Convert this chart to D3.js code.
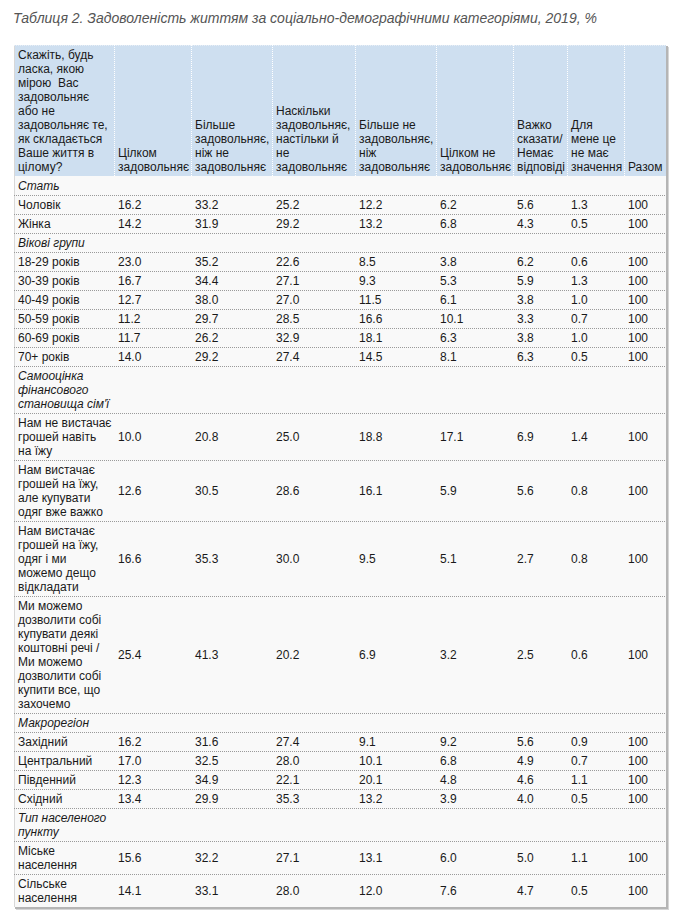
<!DOCTYPE html>
<html>
<head>
<meta charset="utf-8">
<script src="https://cdn.jsdelivr.net/npm/d3@7"></script>
<style>
  html, body { margin: 0; padding: 0; background: #fff; }
  svg { display: block; }
  text { font-family: "Liberation Sans", Arial, sans-serif; }
</style>
</head>
<body>
<svg id="chart" width="680" height="915"></svg>
<script>
// ---------- DATA ----------
const title = "Таблиця 2. Задоволеність життям за соціально-демографічними категоріями, 2019, %";

const columnHeaders = [
  "Скажіть, будь\nласка, якою\nмірою\u00a0 Вас\nзадовольняє\nабо не\nзадовольняє те,\nяк складається\nВаше життя в\nцілому?",
  "Цілком\nзадовольняє",
  "Більше\nзадовольняє,\nніж не\nзадовольняє",
  "Наскільки\nзадовольняє,\nнастільки й\nне\nзадовольняє",
  "Більше не\nзадовольняє,\nніж\nзадовольняє",
  "Цілком не\nзадовольняє",
  "Важко\nсказати/\nНемає\nвідповіді",
  "Для\nмене це\nне має\nзначення",
  "Разом"
];

const groups = [
  "Стать",
  "Вікові групи",
  "Самооцінка\nфінансового\nстановища сім'ї",
  "Макрорегіон",
  "Тип населеного\nпункту"
];

// index of the group each category belongs to
const categoryGroup = [0,0, 1,1,1,1,1,1, 2,2,2,2, 3,3,3,3, 4,4];

const categories = [
  "Чоловік",
  "Жінка",
  "18-29 років",
  "30-39 років",
  "40-49 років",
  "50-59 років",
  "60-69 років",
  "70+ років",
  "Нам не вистачає\nгрошей навіть\nна їжу",
  "Нам вистачає\nгрошей на їжу,\nале купувати\nодяг вже важко",
  "Нам вистачає\nгрошей на їжу,\nодяг і ми\nможемо дещо\nвідкладати",
  "Ми можемо\nдозволити собі\nкупувати деякі\nкоштовні речі /\nМи можемо\nдозволити собі\nкупити все, що\nзахочемо",
  "Західний",
  "Центральний",
  "Південний",
  "Східний",
  "Міське\nнаселення",
  "Сільське\nнаселення"
];

const fullySatisfied      = [16.2,14.2,23.0,16.7,12.7,11.2,11.7,14.0,10.0,12.6,16.6,25.4,16.2,17.0,12.3,13.4,15.6,14.1];
const moreSatisfied       = [33.2,31.9,35.2,34.4,38.0,29.7,26.2,29.2,20.8,30.5,35.3,41.3,31.6,32.5,34.9,29.9,32.2,33.1];
const equallySatisfied    = [25.2,29.2,22.6,27.1,27.0,28.5,32.9,27.4,25.0,28.6,30.0,20.2,27.4,28.0,22.1,35.3,27.1,28.0];
const moreDissatisfied    = [12.2,13.2,8.5,9.3,11.5,16.6,18.1,14.5,18.8,16.1,9.5,6.9,9.1,10.1,20.1,13.2,13.1,12.0];
const fullyDissatisfied   = [6.2,6.8,3.8,5.3,6.1,10.1,6.3,8.1,17.1,5.9,5.1,3.2,9.2,6.8,4.8,3.9,6.0,7.6];
const hardToSay           = [5.6,4.3,6.2,5.9,3.8,3.3,3.8,6.3,6.9,5.6,2.7,2.5,5.6,4.9,4.6,4.0,5.0,4.7];
const notImportant        = [1.3,0.5,0.6,1.3,1.0,0.7,1.0,0.5,1.4,0.8,0.8,0.6,0.9,0.7,1.1,0.5,1.1,0.5];
const total               = [100,100,100,100,100,100,100,100,100,100,100,100,100,100,100,100,100,100];

const series = [fullySatisfied, moreSatisfied, equallySatisfied, moreDissatisfied,
                fullyDissatisfied, hardToSay, notImportant, total];

// ---------- LAYOUT ----------
const svg = d3.select("#chart");
const tableLeft = 14, tableTop = 45;
const colWidths = [100, 77, 81, 83, 81, 77, 54, 57, 42];
const lineH = 14, padV = 2.5, padL = 4, fontSize = 12;
const headerBg = "#cedff0", bodyBg = "#f9f9f9", textColor = "#1a1a1a";

const colEdges = [tableLeft];
colWidths.forEach(w => colEdges.push(colEdges[colEdges.length - 1] + w));
const tableRight = colEdges[colEdges.length - 1];
const xCol = d3.scaleOrdinal().domain(d3.range(colWidths.length)).range(colEdges.slice(0, -1));

const fmt1 = d3.format(".1f"), fmt0 = d3.format("d");

// Build row model
const rows = [];
let lastGroup = -1;
categories.forEach((c, i) => {
  const g = categoryGroup[i];
  if (g !== lastGroup) {
    rows.push({ type: "group", label: groups[g] });
    lastGroup = g;
  }
  rows.push({
    type: "data", label: c,
    values: series.map((s, j) => j === series.length - 1 ? fmt0(s[i]) : fmt1(s[i]))
  });
});
rows.forEach(r => { r.lines = r.label.split("\n"); r.h = r.lines.length * lineH + 2 * padV; });

const headerLines = columnHeaders.map(h => h.split("\n"));
const headerH = d3.max(headerLines, l => l.length) * lineH + 2 * padV;

let yAcc = tableTop + headerH;
rows.forEach(r => { r.y = yAcc; yAcc += r.h; });
const tableBottom = yAcc;

// ---------- TITLE ----------
svg.append("text")
  .attr("x", tableLeft - 1).attr("y", 23)
  .attr("font-size", 14.5).attr("font-style", "italic")
  .attr("fill", "#555")
  .attr("textLength", 584).attr("lengthAdjust", "spacingAndGlyphs")
  .text(title);

// ---------- TABLE BACKGROUND & SHADOW ----------
svg.append("rect").attr("x", tableLeft + 2).attr("y", tableTop + 2)
  .attr("width", tableRight - tableLeft + 1).attr("height", tableBottom - tableTop + 1)
  .attr("fill", "#d6d6d6");
svg.append("rect").attr("x", tableLeft + 1).attr("y", tableTop + 1)
  .attr("width", tableRight - tableLeft + 1).attr("height", tableBottom - tableTop + 1)
  .attr("fill", "#b5b5b5");
svg.append("rect").attr("x", tableLeft).attr("y", tableTop)
  .attr("width", tableRight - tableLeft).attr("height", tableBottom - tableTop)
  .attr("fill", bodyBg);

// Header background
svg.append("rect").attr("x", tableLeft).attr("y", tableTop)
  .attr("width", tableRight - tableLeft).attr("height", headerH)
  .attr("fill", headerBg);

// Left border
svg.append("line").attr("x1", tableLeft + 0.5).attr("x2", tableLeft + 0.5)
  .attr("y1", tableTop).attr("y2", tableBottom)
  .attr("stroke", "#d8d8d8");

// Header top dotted
svg.append("line").attr("x1", tableLeft).attr("x2", tableRight)
  .attr("y1", tableTop + 0.5).attr("y2", tableTop + 0.5)
  .attr("stroke", "#e8eef5").attr("stroke-dasharray", "1,1");

// Header vertical separators (white dotted)
svg.append("g").selectAll("line").data(colEdges.slice(1, -1)).join("line")
  .attr("x1", d => d + 0.5).attr("x2", d => d + 0.5)
  .attr("y1", tableTop).attr("y2", tableTop + headerH)
  .attr("stroke", "#ffffff").attr("stroke-dasharray", "1,1");

// Row separators (gray dotted)
svg.append("g").selectAll("line").data(rows.slice(1)).join("line")
  .attr("x1", tableLeft).attr("x2", tableRight)
  .attr("y1", d => d.y + 0.5).attr("y2", d => d.y + 0.5)
  .attr("stroke", "#9a9a9a").attr("stroke-dasharray", "1,1");

// ---------- HEADER TEXT (bottom aligned) ----------
const hdr = svg.append("g").attr("font-size", fontSize).attr("fill", textColor);
headerLines.forEach((lines, j) => {
  const n = lines.length;
  const baseTop = tableTop + headerH - padV - n * lineH;
  hdr.append("g").selectAll("text").data(lines).join("text")
    .attr("x", xCol(j) + padL)
    .attr("y", (d, k) => baseTop + k * lineH + 11.9)
    .attr("xml:space", "preserve")
    .style("white-space", "pre")
    .text(d => d);
});

// ---------- BODY TEXT ----------
const body = svg.append("g").attr("font-size", fontSize).attr("fill", textColor);
rows.forEach(r => {
  body.append("g").selectAll("text").data(r.lines).join("text")
    .attr("x", xCol(0) + padL)
    .attr("y", (d, k) => r.y + padV + k * lineH + 11.9)
    .attr("font-style", r.type === "group" ? "italic" : null)
    .text(d => d);
  if (r.type === "data") {
    const midBase = r.y + r.h / 2 + 4.4;
    body.append("g").selectAll("text").data(r.values).join("text")
      .attr("x", (d, j) => xCol(j + 1) + padL)
      .attr("y", midBase)
      .text(d => d);
  }
});
</script>
</body>
</html>
